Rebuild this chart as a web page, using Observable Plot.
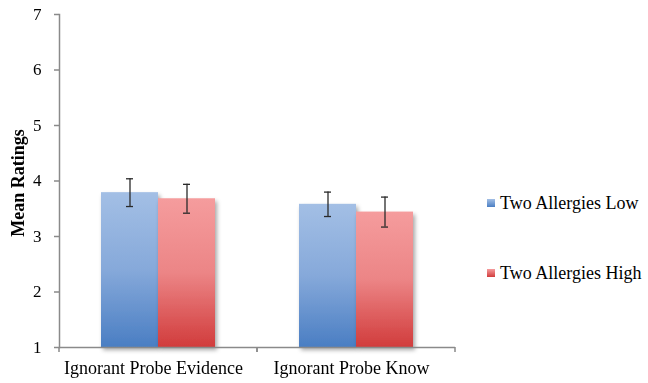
<!DOCTYPE html>
<html><head><meta charset="utf-8">
<script src="https://cdn.jsdelivr.net/npm/d3@7"></script>
<script src="https://cdn.jsdelivr.net/npm/@observablehq/plot@0.6"></script>
<style>
body{margin:0;background:#fff;}
#wrap{position:relative;width:648px;height:383px;font-family:"Liberation Serif","Times New Roman",serif;}
.leg{position:absolute;left:487px;font-size:18px;color:#000;display:flex;align-items:center;white-space:nowrap;line-height:1;font-family:"Liberation Serif","Times New Roman",serif;}
.sw{width:8px;height:8px;margin-right:5px;}
</style></head><body><div id="wrap"></div>
<script>
const categories = ["Ignorant Probe Evidence", "Ignorant Probe Know"];
const series = ["Two Allergies Low", "Two Allergies High"];
const lowMeans = [3.79, 3.58];
const highMeans = [3.68, 3.44];
const lowErr = [0.25, 0.22];
const highErr = [0.26, 0.27];
const yTicks = [1, 2, 3, 4, 5, 6, 7];
const yLabel = "Mean Ratings";
const gradStops = {
  low: ["#a3bfe5", "#86a9da", "#4a7ec3"],
  high: ["#f59c9d", "#ec8586", "#d13c3c"]
};

const rows = categories.flatMap((c, i) => [
  {category: c, series: series[0], mean: lowMeans[i], err: lowErr[i]},
  {category: c, series: series[1], mean: highMeans[i], err: highErr[i]}
]);
const lowRows = rows.filter(d => d.series === series[0]);
const highRows = rows.filter(d => d.series === series[1]);

const axisGray = "#8a8a8a";
const font = '"Liberation Serif","Times New Roman",serif';

function boundaryTicks(index, scales, values, dimensions) {
  const {width, height, marginRight, marginBottom, marginLeft} = dimensions;
  const g = d3.create("svg:g").attr("stroke", axisGray).attr("stroke-width", 1.5);
  const yb = height - marginBottom;
  for (const x of [marginLeft, width - marginRight]) {
    g.append("line").attr("x1", x).attr("x2", x).attr("y1", yb).attr("y2", yb + 5);
  }
  return g.node();
}

const plot = Plot.plot({
  width: 648,
  height: 383,
  marginLeft: 58,
  marginRight: 193,
  marginTop: 14,
  marginBottom: 36,
  style: {fontFamily: font, background: "#fff", color: "#000"},
  fx: {domain: categories, padding: 0, label: null},
  x: {domain: series, paddingInner: 0, paddingOuter: 0.71, axis: null},
  y: {domain: [1, 7], label: null},
  marks: [
    Plot.barY(lowRows, {fx: "category", x: "series", y1: 1, y2: "mean", fill: "url(#gradLow)"}),
    Plot.barY(highRows, {fx: "category", x: "series", y1: 1, y2: "mean", fill: "url(#gradHigh)"}),
    Plot.ruleY([1], {stroke: axisGray, strokeWidth: 1.5}),
    Plot.frame({anchor: "left", facetAnchor: "left", stroke: axisGray, strokeWidth: 1.5}),
    boundaryTicks,
    Plot.ruleX(rows, {fx: "category", x: "series", y1: d => d.mean - d.err, y2: d => d.mean + d.err, stroke: "#2a2a2a", strokeWidth: 1.3}),
    Plot.tickY(rows, {fx: "category", x: "series", y: d => d.mean + d.err, insetLeft: 25, insetRight: 25, stroke: "#2a2a2a", strokeWidth: 1.3}),
    Plot.tickY(rows, {fx: "category", x: "series", y: d => d.mean - d.err, insetLeft: 25, insetRight: 25, stroke: "#2a2a2a", strokeWidth: 1.3}),
    Plot.axisY({ticks: yTicks, tickFormat: d3.format("d"), tickSize: 5, tickPadding: 13, fontSize: 17, fontFamily: font, stroke: axisGray, strokeWidth: 1.5, color: "#000", label: null}),
    Plot.axisFx({anchor: "bottom", tickSize: 0, tickPadding: 14, fontSize: 18, fontFamily: font, dx: -5, label: null}),
    Plot.text([yLabel], {frameAnchor: "left", facetAnchor: "left", rotate: -90, dx: -41, dy: 2, textAnchor: "middle", fontWeight: "bold", fontSize: 18, fontFamily: font})
  ]
});

// gradients & shadow definitions referenced by the bars
const defs = d3.create("svg:defs");
for (const [id, stops] of [["gradLow", gradStops.low], ["gradHigh", gradStops.high]]) {
  const lg = defs.append("linearGradient").attr("id", id).attr("x1", 0).attr("y1", 0).attr("x2", 0).attr("y2", 1);
  stops.forEach((c, i) => lg.append("stop").attr("offset", i / (stops.length - 1)).attr("stop-color", c));
}
const f = defs.append("filter").attr("id", "barShadow").attr("x", "-20%").attr("y", "-20%").attr("width", "140%").attr("height", "140%");
f.append("feDropShadow").attr("dx", 2).attr("dy", 3).attr("stdDeviation", 2).attr("flood-color", "#000").attr("flood-opacity", 0.35);
plot.insertBefore(defs.node(), plot.firstChild);
d3.select(plot).selectAll('g[aria-label="bar"]').attr("filter", "url(#barShadow)");

const wrap = document.getElementById("wrap");
wrap.appendChild(plot);

const legendY = [203, 273];
series.forEach((s, i) => {
  const item = document.createElement("div");
  item.className = "leg";
  item.style.top = (legendY[i] - 9) + "px";
  const sw = document.createElement("div");
  sw.className = "sw";
  const st = i === 0 ? gradStops.low : gradStops.high;
  sw.style.background = `linear-gradient(${st[0]}, ${st[2]})`;
  item.appendChild(sw);
  const t = document.createElement("span");
  t.textContent = s;
  item.appendChild(t);
  wrap.appendChild(item);
});
</script></body></html>
